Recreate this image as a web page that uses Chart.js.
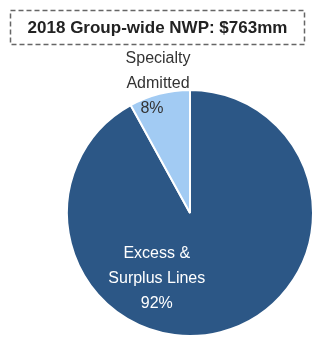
<!DOCTYPE html>
<html>
<head>
<meta charset="utf-8">
<script src="https://cdn.jsdelivr.net/npm/chart.js@4"></script>
<style>
html,body{margin:0;padding:0;background:#fff;overflow:hidden;}
#wrap{position:absolute;left:0;top:0;width:315px;height:340px;}
</style>
</head>
<body>
<div id="wrap"><canvas id="c" width="315" height="340"></canvas></div>
<script>
const titleText = "2018 Group-wide NWP: $763mm";
const categories = [["Excess &", "Surplus Lines"], ["Specialty", "Admitted"]];
const shares = [92, 8];
const colors = ["#2c5786", "#a2cbf3"];

const labelPlugin = {
  id: "labelPlugin",
  afterDatasetsDraw(chart) {
    const ctx = chart.ctx;
    const meta = chart.getDatasetMeta(0);
    ctx.save();
    ctx.font = "16px 'Liberation Sans', Arial, sans-serif";
    ctx.textAlign = "center";
    ctx.textBaseline = "middle";
    const lh = 25;
    meta.data.forEach((arc, i) => {
      const p = arc.getProps(["x", "y", "outerRadius"], true);
      const lines = categories[i].concat([shares[i] + "%"]);
      let cx, cy, color;
      if (i === 0) {
        cx = p.x - 0.27 * p.outerRadius;
        cy = p.y + 0.53 * p.outerRadius;
        color = "#ffffff";
      } else {
        cx = p.x - 0.26 * p.outerRadius;
        cy = p.y - 1.05 * p.outerRadius;
        color = "#333333";
      }
      lines.forEach((t, k) => {
        let x = cx;
        if (i === 1 && k === 2) x -= 6;
        ctx.fillStyle = color;
        ctx.fillText(t, x, cy + (k - (lines.length - 1) / 2) * lh);
      });
    });
    ctx.restore();
  }
};

const boxPlugin = {
  id: "boxPlugin",
  afterDraw(chart) {
    const ctx = chart.ctx;
    ctx.save();
    ctx.strokeStyle = "#666";
    ctx.lineWidth = 1.5;
    ctx.setLineDash([5, 3]);
    ctx.strokeRect(10.5, 10.5, 294, 34);
    ctx.setLineDash([]);
    ctx.font = "bold 17px 'Liberation Sans', Arial, sans-serif";
    ctx.fillStyle = "#222";
    ctx.textAlign = "center";
    ctx.textBaseline = "middle";
    ctx.fillText(titleText, 157.5, 28);
    ctx.restore();
  }
};

new Chart(document.getElementById("c"), {
  type: "pie",
  data: {
    labels: categories.map(c => c.join(" ")),
    datasets: [{
      data: shares,
      backgroundColor: colors,
      borderColor: "#ffffff",
      borderWidth: 2
    }]
  },
  options: {
    responsive: false,
    devicePixelRatio: 1,
    animation: false,
    layout: { padding: { left: 66, right: 1, top: 89, bottom: 3 } },
    plugins: { legend: { display: false }, tooltip: { enabled: false } }
  },
  plugins: [labelPlugin, boxPlugin]
});
</script>
</body>
</html>
